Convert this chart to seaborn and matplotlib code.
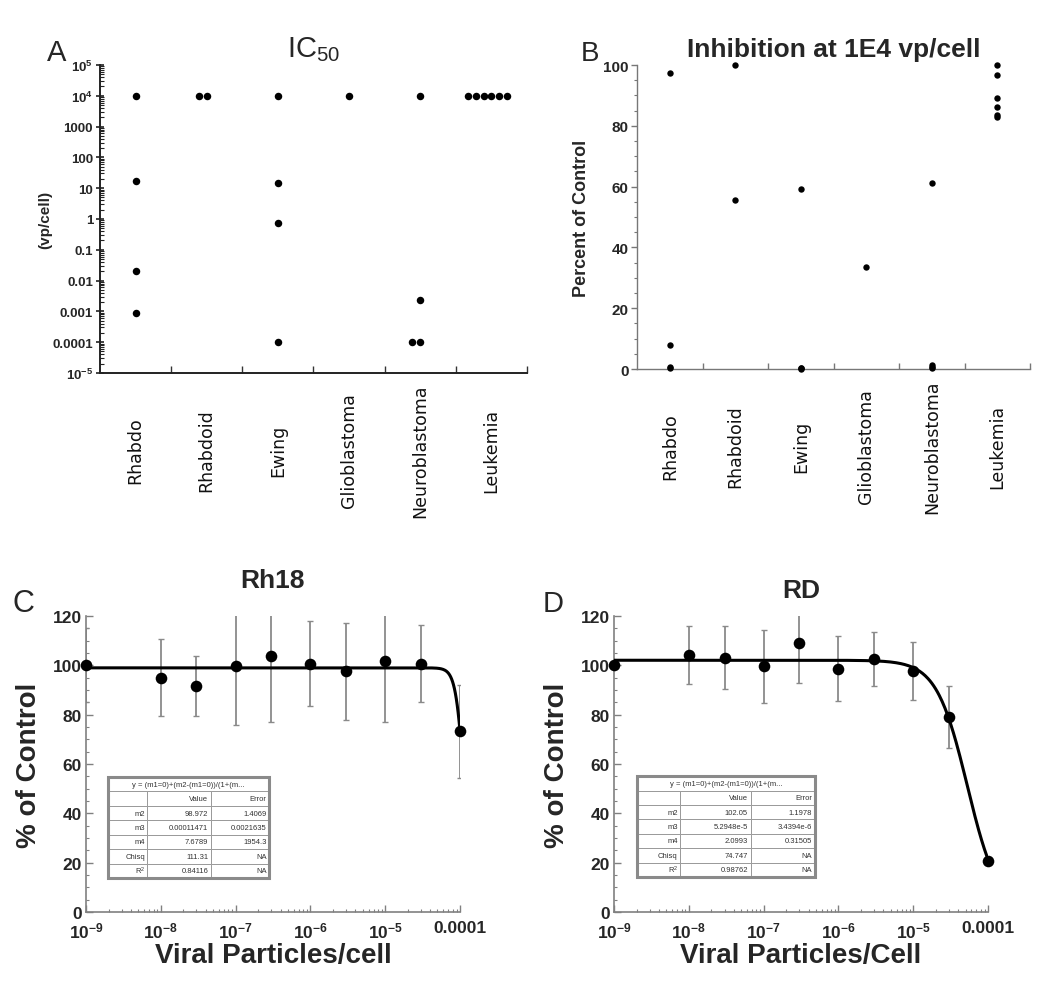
import numpy as np
import pandas as pd
import matplotlib
matplotlib.use("Agg")
import matplotlib.pyplot as plt
import seaborn as sns
from matplotlib.ticker import LogLocator, MultipleLocator, NullFormatter, FixedLocator
from matplotlib.patches import Rectangle

# ---------------- data ----------------
categories = ["Rhabdo", "Rhabdoid", "Ewing", "Glioblastoma", "Neuroblastoma", "Leukemia"]

# Panel A: IC50 (vp/cell)
ic50_rhabdo = [1e4, 17, 0.021, 0.0009]
ic50_rhabdoid = [1e4, 1e4]
ic50_ewing = [1e4, 15, 0.75, 0.0001]
ic50_glioblastoma = [1e4]
ic50_neuroblastoma = [1e4, 0.0023, 0.0001, 0.0001]
ic50_leukemia = [1e4, 1e4, 1e4, 1e4, 1e4, 1e4]

# Panel B: percent of control at 1E4 vp/cell
inh_rhabdo = [97.5, 8.0, 0.7, 0.3]
inh_rhabdoid = [100.0, 55.6]
inh_ewing = [59.2, 0.3, 0.2, 0.1]
inh_glioblastoma = [33.7]
inh_neuroblastoma = [61.3, 1.4, 0.7, 0.2]
inh_leukemia = [100.0, 96.6, 89.1, 86.1, 83.4, 82.8]

a_ytick_values = [1e-5, 1e-4, 1e-3, 1e-2, 1e-1, 1, 10, 100, 1000, 1e4, 1e5]
a_ytick_labels = [r"$\mathbf{10^{-5}}$", "0.0001", "0.001", "0.01", "0.1", "1", "10",
                  "100", "1000", r"$\mathbf{10^{4}}$", r"$\mathbf{10^{5}}$"]

# Panels C/D: dose response
dose = [1e-9, 1e-8, 3e-8, 1e-7, 3e-7, 1e-6, 3e-6, 1e-5, 3e-5, 1e-4]
rh18_mean = [100.0, 94.9, 91.5, 99.6, 103.8, 100.7, 97.5, 101.7, 100.7, 73.2]
rh18_err = [15.0, 15.6, 12.2, 24.0, 26.7, 17.3, 19.6, 24.5, 15.7, 18.9]
rd_mean = [100.2, 104.1, 103.1, 99.6, 108.9, 98.7, 102.5, 97.7, 79.0, 20.8]
rd_err = [0.0, 11.7, 12.9, 14.8, 16.0, 13.2, 11.0, 11.7, 12.6, 0.0]

# fit parameters shown in the inset tables: y = m2 / (1 + (x/m3)^m4)
rh18_fit = [98.972, 0.00011471, 7.6789]
rd_fit = [102.05, 5.2948e-5, 2.0993]

cd_xtick_values = [1e-9, 1e-8, 1e-7, 1e-6, 1e-5, 1e-4]
cd_xtick_labels = [r"$\mathbf{10^{-9}}$", r"$\mathbf{10^{-8}}$", r"$\mathbf{10^{-7}}$",
                   r"$\mathbf{10^{-6}}$", r"$\mathbf{10^{-5}}$", "0.0001"]

tbl_row_names = ["m2", "m3", "m4", "Chisq", "R$^2$"]
rh18_tbl_value = ["98.972", "0.00011471", "7.6789", "111.31", "0.84116"]
rh18_tbl_error = ["1.4069", "0.0021635", "1954.3", "NA", "NA"]
rd_tbl_value = ["102.05", "5.2948e-5", "2.0993", "74.747", "0.98762"]
rd_tbl_error = ["1.1978", "3.4394e-6", "0.31505", "NA", "NA"]
tbl_formula = "y = (m1=0)+(m2-(m1=0))/(1+(m..."

# ---------------- style ----------------
sns.set_theme(style="ticks")
plt.rcParams["font.family"] = ["Liberation Sans", "DejaVu Sans"]
plt.rcParams["mathtext.fontset"] = "custom"
plt.rcParams["mathtext.rm"] = "Liberation Sans"
plt.rcParams["mathtext.bf"] = "Liberation Sans:bold"
plt.rcParams["mathtext.it"] = "Liberation Sans:italic"

fig = plt.figure(figsize=(10.5, 9.87), dpi=100)
fig.patch.set_facecolor("white")

axA = fig.add_axes([0.0952, 0.6211, 0.4067, 0.3121])
axB = fig.add_axes([0.6067, 0.6251, 0.3743, 0.3080])
axC = fig.add_axes([0.0819, 0.0750, 0.3562, 0.2999])
axD = fig.add_axes([0.5848, 0.0750, 0.3562, 0.2999])


def long_frame(groups):
    rows = []
    for cat, vals in zip(categories, groups):
        for v in vals:
            rows.append((cat, v))
    return pd.DataFrame(rows, columns=["category", "value"])


def category_axis(ax, ycenter):
    ax.set_xlim(-0.5, len(categories) - 0.5)
    ax.set_xticks(np.arange(len(categories)) + 0.5)
    ax.set_xticklabels([])
    ax.set_xlabel("")
    trans = ax.get_xaxis_transform()
    for i, c in enumerate(categories):
        ax.text(i, ycenter, c, rotation=90, ha="center", va="center",
                fontsize=12.5, family="DejaVu Sans", color="#111111", transform=trans)


# ---------------- Panel A ----------------
dfA = long_frame([ic50_rhabdo, ic50_rhabdoid, ic50_ewing, ic50_glioblastoma,
                  ic50_neuroblastoma, ic50_leukemia])
sns.swarmplot(data=dfA, x="category", y="value", order=categories, log_scale=True,
              color="black", size=5.4, linewidth=0, ax=axA)
axA.set_ylim(1e-5, 1e5)
axA.yaxis.set_major_locator(FixedLocator(a_ytick_values))
axA.set_yticklabels(a_ytick_labels)
axA.yaxis.set_minor_locator(LogLocator(base=10, subs=np.arange(2, 10), numticks=30))
axA.yaxis.set_minor_formatter(NullFormatter())
for lab in axA.get_yticklabels():
    lab.set_fontweight("bold")
axA.tick_params(axis="y", which="major", direction="inout", length=6, width=1.2,
                labelsize=9.5, pad=2, color="#222222")
axA.tick_params(axis="y", which="minor", direction="in", length=3, width=0.8, color="#222222")
axA.tick_params(axis="x", which="major", direction="in", length=5, width=1.0, color="#333333")
category_axis(axA, -0.25)
for sp in ["left", "bottom"]:
    axA.spines[sp].set_color("#222222")
    axA.spines[sp].set_linewidth(1.4)
axA.set_ylabel("(vp/cell)", fontsize=11, fontweight="bold")
axA.yaxis.set_label_coords(-0.112, 0.5)
axA.set_title("IC$_{50}$", fontsize=21, pad=6.5)
for coll in axA.collections:
    coll.set_clip_on(False)

# ---------------- Panel B ----------------
dfB = long_frame([inh_rhabdo, inh_rhabdoid, inh_ewing, inh_glioblastoma,
                  inh_neuroblastoma, inh_leukemia])
sns.stripplot(data=dfB, x="category", y="value", order=categories, jitter=False,
              color="black", size=4.6, linewidth=0, ax=axB)
axB.set_ylim(0, 100)
axB.yaxis.set_major_locator(MultipleLocator(20))
axB.yaxis.set_minor_locator(MultipleLocator(5))
for lab in axB.get_yticklabels():
    lab.set_fontweight("bold")
axB.tick_params(axis="y", which="major", direction="out", length=4, width=1.0,
                labelsize=11, pad=2, color="#777777")
axB.tick_params(axis="y", which="minor", direction="out", length=2.5, width=0.8, color="#777777")
axB.tick_params(axis="x", which="major", direction="in", length=4, width=1.0, color="#777777")
category_axis(axB, -0.253)
for sp in ["left", "bottom"]:
    axB.spines[sp].set_color("#777777")
    axB.spines[sp].set_linewidth(1.0)
axB.set_ylabel("Percent of Control", fontsize=13, fontweight="bold")
axB.yaxis.set_label_coords(-0.12, 0.5)
axB.set_title("Inhibition at 1E4 vp/cell", fontsize=19, fontweight="bold", pad=6.5)
for coll in axB.collections:
    coll.set_clip_on(False)

sns.despine(ax=axA)
sns.despine(ax=axB)


# ---------------- Panels C & D ----------------
def dose_panel(ax, mean, err, fit, title, xlabel, title_pad, tbl_value, tbl_error, tbl_box):
    ax.set_xscale("log")
    ax.errorbar(dose, mean, yerr=err, fmt="none", ecolor="#8a8a8a", elinewidth=1.3,
                capsize=2.5, capthick=1.0, zorder=2)
    m2, m3, m4 = fit
    xfit = np.logspace(np.log10(dose[0]), np.log10(dose[-1]), 400)
    yfit = m2 / (1.0 + (xfit / m3) ** m4)
    sns.lineplot(x=xfit, y=yfit, color="black", linewidth=2.2, ax=ax, zorder=3)
    sns.scatterplot(x=dose, y=mean, color="black", s=70, linewidth=0, ax=ax,
                    zorder=4, clip_on=False)
    ax.set_xlim(dose[0], dose[-1])
    ax.set_ylim(0, 120)
    ax.set_xticks(cd_xtick_values)
    ax.set_xticklabels(cd_xtick_labels)
    ax.xaxis.set_minor_locator(LogLocator(base=10, subs=np.arange(2, 10), numticks=30))
    ax.xaxis.set_minor_formatter(NullFormatter())
    ax.yaxis.set_major_locator(MultipleLocator(20))
    ax.yaxis.set_minor_locator(MultipleLocator(5))
    for lab in ax.get_xticklabels() + ax.get_yticklabels():
        lab.set_fontweight("bold")
    ax.tick_params(axis="both", which="major", direction="in", length=5, width=1.0,
                   labelsize=12.5, color="#808080", pad=3)
    ax.tick_params(axis="x", which="major", pad=6)
    ax.tick_params(axis="both", which="minor", direction="in", length=2.5, width=0.8,
                   color="#808080")
    for sp in ["left", "bottom"]:
        ax.spines[sp].set_color("#808080")
        ax.spines[sp].set_linewidth(1.2)
    sns.despine(ax=ax)
    ax.set_ylabel("% of Control", fontsize=20, fontweight="bold")
    ax.yaxis.set_label_coords(-0.118, 0.5)
    ax.set_xlabel(xlabel, fontsize=20, fontweight="bold")
    ax.xaxis.set_label_coords(0.5, -0.1)
    ax.set_title(title, fontsize=19, fontweight="bold", pad=title_pad)

    # inset fit table
    cell_text = [["", "", ""], ["", "Value", "Error"]]
    for n, v, e in zip(tbl_row_names, tbl_value, tbl_error):
        cell_text.append([n, v, e])
    tbl = ax.table(cellText=cell_text, colWidths=[0.24, 0.40, 0.36], cellLoc="right",
                   bbox=tbl_box, zorder=5)
    tbl.auto_set_font_size(False)
    tbl.set_fontsize(5.5)
    for (r, c), cell in tbl.get_celld().items():
        cell.set_edgecolor("#9a9a9a")
        cell.set_linewidth(0.7)
        cell.set_facecolor("white")
        cell.PAD = 0.04
        cell.get_text().set_color("#333333")
        if r == 0:
            cell.visible_edges = {0: "BTL", 1: "BT", 2: "BTR"}[c]
    x0, y0, w, h = tbl_box
    ax.text(x0 + w / 2, y0 + h * (1 - 0.5 / 7), tbl_formula, transform=ax.transAxes,
            ha="center", va="center", fontsize=5.5, color="#333333", zorder=6)
    ax.add_patch(Rectangle((x0, y0), w, h, transform=ax.transAxes, fill=False,
                           edgecolor="#8a8a8a", linewidth=2.2, zorder=7, clip_on=False))


dose_panel(axC, rh18_mean, rh18_err, rh18_fit, "Rh18", "Viral Particles/cell", 21,
           rh18_tbl_value, rh18_tbl_error, [0.059, 0.115, 0.43, 0.341])
dose_panel(axD, rd_mean, rd_err, rd_fit, "RD", "Viral Particles/Cell", 14,
           rd_tbl_value, rd_tbl_error, [0.061, 0.118, 0.476, 0.341])

# panel letters
fig.text(47 / 1050, 1 - 61 / 987, "A", fontsize=21, va="baseline", ha="left")
fig.text(581 / 1050, 1 - 61 / 987, "B", fontsize=20, va="baseline", ha="left")
fig.text(12 / 1050, 1 - 612 / 987, "C", fontsize=22, va="baseline", ha="left")
fig.text(543 / 1050, 1 - 612 / 987, "D", fontsize=21, va="baseline", ha="left")

fig.savefig("out.png", dpi=100, facecolor="white")
